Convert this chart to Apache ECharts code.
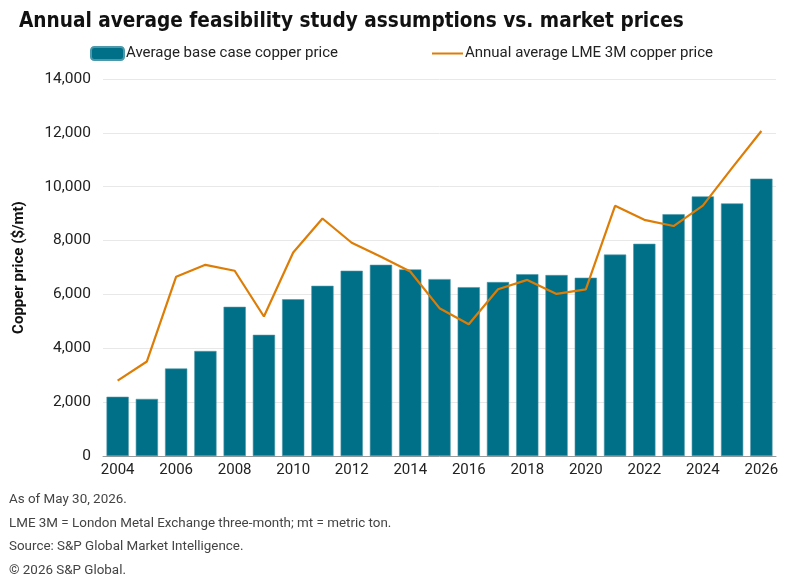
<!DOCTYPE html>
<html>
<head>
<meta charset="utf-8">
<script src="https://cdn.jsdelivr.net/npm/echarts@6/dist/echarts.min.js"></script>
<style>
  html, body { margin: 0; padding: 0; background: #fff; }
  #chart { width: 800px; height: 580px; }
</style>
</head>
<body>
<div id="chart"></div>
<script>
const years = ['2004', '2005', '2006', '2007', '2008', '2009', '2010', '2011', '2012', '2013', '2014', '2015',
  '2016', '2017', '2018', '2019', '2020', '2021', '2022', '2023', '2024', '2025', '2026']
const baseCase = [2200, 2120, 3250, 3900, 5540, 4500, 5820, 6320, 6880, 7100, 6930, 6570,
  6270, 6460, 6750, 6720, 6620, 7480, 7880, 8980, 9640, 9380, 10300]
const lme3m = [2800, 3510, 6660, 7100, 6880, 5180, 7560, 8820, 7920, 7400, 6850, 5490,
  4890, 6190, 6540, 6020, 6190, 9290, 8770, 8540, 9300, 10700, 12070]
const notes = [
  'As of May 30, 2026.',
  'LME 3M = London Metal Exchange three-month; mt = metric ton.',
  'Source: S&P Global Market Intelligence.',
  '\u00a9 2026 S&P Global.'
]

const font = 'Roboto, "Noto Sans", sans-serif'
const chart = echarts.init(document.getElementById('chart'))

const option = {
  animation: false,
  title: {
    text: 'Annual average feasibility study assumptions vs. market prices',
    left: 14,
    top: 6,
    textStyle: {
      fontFamily: '"DejaVu Sans Condensed", sans-serif',
      fontWeight: 'bold',
      fontSize: 20.6,
      color: '#111'
    }
  },
  legend: [
    {
      data: ['Average base case copper price'],
      left: 90,
      top: 46,
      padding: 0,
      itemWidth: 33,
      itemHeight: 13,
      textStyle: { fontFamily: font, fontSize: 15, color: '#222', padding: [0, 0, 0, -3] }
    },
    {
      data: [{ name: 'Annual average LME 3M copper price', icon: 'rect', itemStyle: { color: '#dd7d06' } }],
      left: 432,
      top: 46,
      padding: 0,
      itemWidth: 31,
      itemHeight: 2,
      textStyle: { fontFamily: font, fontSize: 15, color: '#222', padding: [0, 0, 0, -3] }
    }
  ],
  grid: { left: 103, right: 24, top: 79, bottom: 124 },
  xAxis: {
    type: 'category',
    data: years,
    axisTick: { show: false },
    axisLine: { lineStyle: { color: '#999', width: 1 } },
    axisLabel: {
      interval: 1,
      fontFamily: font,
      fontSize: 15,
      color: '#222',
      margin: 7
    }
  },
  yAxis: {
    type: 'value',
    min: 0,
    max: 14000,
    interval: 2000,
    name: 'Copper price ($/mt)',
    nameLocation: 'middle',
    nameGap: 76,
    nameTextStyle: { fontFamily: font, fontSize: 15, fontWeight: 'bold', color: '#111' },
    axisLabel: {
      fontFamily: font,
      fontSize: 15.5,
      color: '#222',
      margin: 12,
      formatter: v => v.toLocaleString('en-US')
    },
    splitLine: { lineStyle: { color: '#e8e8e8' } }
  },
  series: [
    {
      name: 'Average base case copper price',
      type: 'bar',
      data: baseCase,
      barCategoryGap: '24%',
      itemStyle: { color: '#006f88', borderColor: '#4d98aa', borderWidth: 0.6 }
    },
    {
      name: 'Annual average LME 3M copper price',
      type: 'line',
      data: lme3m,
      symbol: 'none',
      lineStyle: { color: '#dd7d06', width: 2.2 },
      itemStyle: { color: '#dd7d06' }
    }
  ],
  graphic: notes.map((t, i) => ({
    type: 'text',
    left: 9,
    top: 493 + i * 23.7,
    style: { text: t, fontFamily: font, fontSize: 13.4, fill: '#444' }
  }))
}

chart.setOption(option)
</script>
</body>
</html>
